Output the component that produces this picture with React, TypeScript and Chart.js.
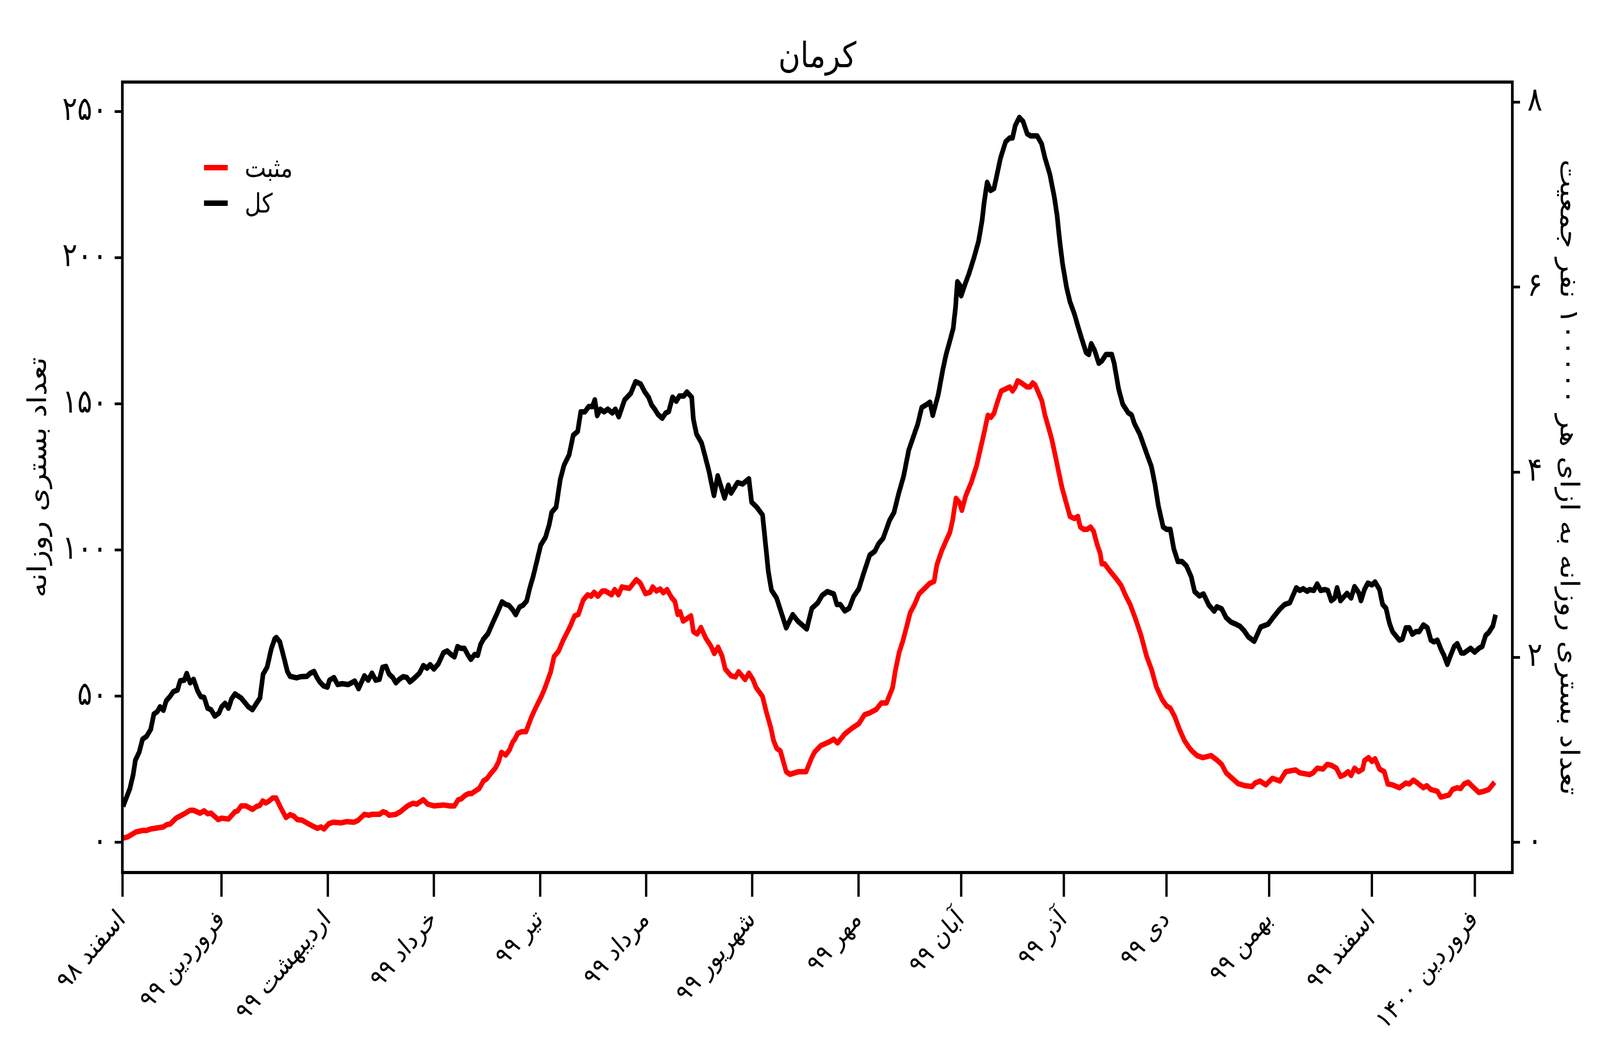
import React, { useEffect, useRef } from 'react';
import { Chart, registerables } from 'chart.js';

Chart.register(...registerables);

const FONT = '"DejaVu Sans", sans-serif';

const titleText = 'کرمان';
const leftAxisTitle = 'تعداد بستری روزانه';
const rightAxisTitle = 'تعداد بستری روزانه به ازای هر ۱۰۰۰۰۰ نفر جمعیت';
const positiveLabel = 'مثبت';
const totalLabel = 'کل';

const monthTickDays = [0, 29, 60, 91, 122, 153, 184, 215, 245, 275, 305, 335, 365, 395];
const monthTickLabels = [
  'اسفند ۹۸', 'فروردین ۹۹', 'اردیبهشت ۹۹', 'خرداد ۹۹', 'تیر ۹۹', 'مرداد ۹۹', 'شهریور ۹۹',
  'مهر ۹۹', 'آبان ۹۹', 'آذر ۹۹', 'دی ۹۹', 'بهمن ۹۹', 'اسفند ۹۹', 'فروردین ۱۴۰۰',
];

const leftTickValues = [0, 50, 100, 150, 200, 250];
const leftTickLabels = ['۰', '۵۰', '۱۰۰', '۱۵۰', '۲۰۰', '۲۵۰'];
const rightTickValues = [0, 2, 4, 6, 8];
const rightTickLabels = ['۰', '۲', '۴', '۶', '۸'];

const xRange = [0, 406];
const leftRange = [-10.3, 260.1];
const populationFactor = 31.66; // daily count / (count per 100 000 people)

// total (کل): day index counted from 1 Esfand 1398, and value
const totalDays = [
  0.2, 2.2, 3.2, 3.8, 4.9, 5.9, 7.1, 8.3, 9.2, 10.2, 11.0, 12.0, 12.8, 13.9, 14.9, 16.1, 16.9, 18.1, 18.8, 19.8,
  20.8, 22.0, 22.9, 23.9, 24.9, 25.9, 27.0, 28.2, 29.0, 30.0, 31.0, 31.9, 32.9, 34.7, 36.8, 38.0, 39.2, 40.2, 41.1, 42.3,
  43.5, 44.5, 45.0, 46.0, 47.2, 48.2, 49.0, 50.9, 52.1, 53.9, 54.8, 56.0, 56.8, 57.6, 58.7, 59.9, 60.5, 61.8, 62.9, 64.2,
  66.0, 67.9, 69.0, 70.7, 71.8, 72.9, 74.0, 75.1, 76.0, 77.0, 77.9, 79.0, 79.9, 80.9, 82.0, 83.1, 84.0, 85.5, 86.8, 87.9,
  89.0, 89.9, 91.0, 92.3, 93.8, 94.9, 96.0, 97.0, 97.9, 98.8, 99.9, 101.0, 101.8, 102.9, 103.8, 104.6, 105.5, 106.8, 108.1, 109.4,
  110.9, 112.0, 112.9, 114.0, 114.9, 116.0, 117.0, 118.1, 119.0, 120.0, 121.1, 122.2, 123.6, 124.7, 125.4, 126.7, 127.9, 129.0, 130.5, 131.7,
  133.0, 133.9, 135.1, 136.2, 137.3, 138.0, 138.7, 139.6, 140.7, 141.8, 143.1, 144.0, 145.0, 146.7, 148.5, 149.9, 151.4, 152.6, 153.7, 154.6,
  155.5, 156.4, 157.7, 158.7, 159.6, 160.7, 161.8, 162.7, 164.0, 164.9, 166.3, 166.8, 167.7, 169.2, 170.3, 171.3, 172.8, 173.9, 175.9, 177.0,
  177.8, 179.7, 181.2, 183.0, 183.8, 185.3, 187.0, 188.7, 189.6, 191.1, 193.9, 195.8, 197.3, 199.9, 201.4, 203.1, 204.4, 205.9, 207.8, 208.7,
  209.7, 211.0, 212.3, 213.6, 215.1, 216.4, 218.3, 219.8, 220.9, 222.2, 224.1, 225.4, 226.7, 228.2, 229.7, 231.0, 232.3, 233.5, 234.8, 235.9,
  236.7, 238.3, 239.6, 240.6, 241.6, 242.7, 243.4, 243.9, 244.7, 245.0, 246.2, 247.3, 248.8, 250.1, 251.1, 251.8, 252.6, 253.6, 254.6, 255.5,
  256.5, 258.0, 259.2, 260.0, 260.8, 262.0, 263.1, 264.3, 265.3, 267.2, 268.5, 269.5, 270.9, 272.2, 273.0, 273.8, 274.6, 275.8, 276.8, 278.1,
  279.1, 280.3, 281.5, 282.3, 283.0, 284.0, 285.2, 286.1, 287.3, 289.0, 289.7, 291.0, 292.2, 293.8, 294.8, 295.6, 297.2, 299.2, 300.6, 301.6,
  302.6, 304.0, 305.0, 306.1, 307.1, 308.3, 309.5, 310.8, 312.2, 313.2, 314.6, 315.8, 317.3, 318.9, 319.7, 321.1, 322.4, 323.8, 325.2, 326.5,
  327.6, 328.9, 330.6, 332.5, 334.7, 336.1, 338.1, 339.5, 341.0, 342.9, 343.9, 344.9, 346.1, 346.8, 348.0, 349.0, 350.0, 351.2, 352.1, 353.1,
  354.1, 354.8, 355.8, 357.7, 358.9, 359.9, 361.1, 361.8, 362.8, 363.8, 365.0, 365.9, 367.2, 368.1, 369.1, 370.1, 371.0, 373.0, 373.9, 374.9,
  375.9, 376.8, 377.8, 378.8, 380.0, 381.2, 382.2, 383.1, 384.1, 385.3, 386.0, 387.0, 388.0, 389.0, 389.9, 391.1, 391.9, 393.8, 395.0, 396.2,
  397.2, 398.2, 399.1, 400.3, 401.1,
];
const totalValues = [
  12.3, 18.4, 23.4, 28.1, 30.8, 35.3, 36.3, 38.7, 43.9, 44.7, 46.4, 45.2, 48.4, 49.9, 51.6, 52.1, 55.3, 55.5, 57.8, 54.6,
  55.8, 51.8, 49.9, 49.6, 45.9, 45.4, 43.2, 44.2, 46.4, 47.6, 45.9, 49.1, 50.8, 49.4, 46.4, 45.4, 47.6, 49.4, 57.5, 60.0,
  66.2, 69.6, 70.1, 68.6, 63.2, 58.5, 56.8, 56.3, 56.7, 56.8, 57.8, 58.5, 56.5, 55.0, 53.6, 53.1, 55.5, 56.4, 54.0, 54.3,
  54.0, 55.2, 52.6, 57.0, 55.5, 57.9, 55.5, 55.8, 59.9, 60.2, 57.6, 56.4, 54.6, 55.8, 56.7, 56.4, 54.9, 56.4, 57.9, 60.5,
  59.6, 60.8, 59.3, 61.1, 64.9, 65.5, 64.3, 63.5, 67.0, 66.4, 66.4, 64.0, 62.6, 64.3, 64.0, 67.6, 69.6, 71.4, 74.9, 78.2,
  82.3, 81.4, 81.1, 79.6, 77.9, 80.5, 81.1, 82.6, 87.0, 91.0, 96.3, 101.7, 104.4, 108.8, 112.9, 114.7, 124.1, 129.0, 132.6, 139.3,
  140.6, 147.3, 147.3, 149.1, 149.1, 151.4, 146.0, 148.2, 147.3, 148.2, 146.9, 148.2, 145.6, 151.4, 153.6, 157.6, 156.8, 154.1, 152.3, 149.6,
  148.2, 146.5, 145.1, 146.9, 147.4, 152.3, 150.9, 152.7, 152.7, 154.1, 152.3, 144.7, 139.7, 136.6, 131.7, 127.2, 118.7, 125.4, 117.8, 122.2,
  119.5, 123.1, 122.6, 124.4, 116.4, 114.7, 112.0, 92.5, 86.3, 83.6, 73.4, 77.9, 75.7, 73.0, 80.1, 81.9, 84.5, 85.8, 85.0, 81.4,
  81.4, 79.2, 80.1, 84.1, 86.7, 91.6, 98.3, 99.6, 102.2, 104.0, 110.2, 112.9, 119.1, 125.3, 134.2, 138.6, 143.0, 148.8, 149.7, 150.6,
  146.1, 153.1, 161.4, 166.9, 171.1, 175.9, 183.5, 191.8, 190.5, 187.0, 191.1, 194.6, 200.2, 205.7, 212.6, 219.6, 225.8, 223.0, 223.7, 228.6,
  234.1, 239.7, 241.0, 241.0, 245.2, 248.0, 246.6, 242.4, 241.7, 241.7, 239.0, 234.1, 228.6, 220.9, 214.7, 205.7, 198.1, 189.8, 184.9, 180.7,
  176.6, 172.0, 167.6, 166.9, 170.6, 168.3, 163.9, 164.7, 166.9, 166.9, 163.9, 155.1, 149.9, 147.0, 146.2, 143.3, 139.6, 133.0, 128.5, 122.6,
  115.2, 107.9, 107.1, 107.1, 100.5, 96.1, 96.1, 94.6, 90.9, 85.8, 84.3, 85.0, 81.3, 79.1, 80.6, 79.9, 76.9, 75.4, 74.7, 73.9,
  72.5, 70.3, 68.8, 73.7, 74.7, 76.9, 79.8, 81.4, 82.0, 87.1, 86.2, 86.8, 85.9, 86.5, 86.2, 88.4, 86.2, 86.5, 86.2, 82.7,
  83.6, 87.1, 82.7, 85.2, 83.6, 87.5, 85.5, 82.7, 86.5, 88.7, 88.1, 89.1, 86.5, 81.4, 80.1, 75.0, 72.1, 69.2, 69.6, 73.4,
  73.4, 71.2, 72.1, 72.1, 74.4, 73.4, 69.2, 68.6, 69.2, 65.7, 64.1, 60.9, 64.1, 67.0, 68.0, 64.8, 64.8, 66.4, 65.1, 66.4,
  67.0, 70.8, 71.8, 74.0, 77.9,
];

// positive (مثبت)
const positiveDays = [
  0.0, 1.6, 4.0, 5.9, 7.1, 8.3, 11.0, 12.0, 13.0, 14.0, 15.7, 18.1, 19.8, 20.8, 22.7, 23.9, 24.9, 25.9, 28.0, 29.0,
  31.0, 32.9, 33.7, 34.7, 36.1, 38.0, 39.2, 40.2, 41.0, 41.9, 42.9, 43.9, 44.9, 46.2, 47.8, 49.0, 50.1, 51.1, 52.5, 54.0,
  55.6, 57.0, 58.0, 58.9, 60.3, 61.6, 63.8, 65.5, 67.7, 68.8, 70.7, 72.0, 72.9, 75.1, 76.2, 77.0, 77.9, 79.9, 81.2, 83.3,
  84.9, 86.0, 87.9, 89.2, 91.0, 93.8, 95.5, 97.0, 98.1, 99.0, 100.1, 101.2, 102.0, 103.1, 104.2, 105.5, 106.4, 107.5, 109.0, 109.9,
  110.7, 112.0, 113.1, 114.0, 114.6, 115.5, 116.6, 117.9, 119.4, 120.5, 122.5, 123.6, 125.1, 126.1, 127.4, 128.7, 129.7, 130.8, 132.1, 133.2,
  134.6, 135.9, 136.9, 137.8, 138.9, 140.2, 141.1, 142.9, 143.8, 144.9, 145.9, 148.1, 150.1, 151.3, 152.8, 154.2, 154.9, 156.0, 157.1, 158.0,
  159.1, 160.4, 161.4, 162.2, 162.9, 163.8, 166.1, 166.8, 167.9, 169.0, 170.4, 171.9, 172.9, 174.0, 175.2, 176.1, 177.8, 179.1, 180.0, 181.9,
  183.0, 184.2, 185.1, 187.0, 188.1, 189.4, 190.2, 191.1, 192.2, 193.9, 195.0, 197.5, 199.7, 201.4, 202.2, 204.0, 206.5, 207.8, 208.9, 211.0,
  213.4, 215.1, 216.8, 218.1, 220.2, 221.7, 223.2, 225.0, 225.8, 226.9, 228.0, 229.3, 230.1, 231.4, 232.7, 234.6, 235.7, 237.1, 237.9, 239.3,
  240.6, 241.7, 242.5, 243.5, 244.5, 245.2, 246.3, 248.0, 249.5, 250.6, 251.8, 252.8, 253.7, 254.6, 255.5, 256.7, 258.0, 259.2, 260.0, 260.8,
  261.5, 262.6, 263.4, 264.3, 265.1, 265.9, 266.6, 267.6, 268.6, 269.5, 270.5, 271.5, 272.5, 273.5, 274.5, 275.8, 276.8, 278.1, 279.1, 279.8,
  280.8, 281.8, 282.8, 283.7, 284.7, 285.6, 286.1, 286.9, 288.3, 290.3, 291.7, 293.1, 294.4, 295.8, 297.5, 299.2, 300.6, 302.0, 303.7, 305.0,
  306.1, 307.4, 308.8, 310.2, 311.5, 312.5, 313.9, 315.6, 318.0, 319.7, 321.1, 322.4, 323.8, 325.9, 327.9, 330.0, 330.8, 332.3, 334.0, 335.9,
  337.4, 338.1, 339.8, 342.7, 343.9, 346.8, 347.8, 349.0, 350.7, 351.9, 353.1, 354.6, 355.8, 357.0, 358.0, 358.9, 359.9, 361.1, 362.3, 362.8,
  364.0, 365.0, 365.9, 367.2, 368.6, 369.6, 371.0, 373.0, 374.9, 375.9, 377.1, 378.3, 380.0, 381.0, 382.2, 384.1, 385.1, 387.5, 388.5, 389.9,
  390.9, 391.9, 393.1, 394.5, 396.2, 397.7, 399.1, 400.8,
];
const positiveValues = [
  1.4, 1.9, 3.6, 4.1, 4.1, 4.6, 5.1, 5.3, 6.1, 6.3, 8.3, 9.8, 11.0, 11.0, 10.0, 10.8, 9.8, 10.0, 7.8, 8.3,
  8.0, 10.5, 10.8, 12.5, 12.5, 11.3, 12.3, 12.7, 14.2, 13.5, 14.2, 15.2, 15.2, 12.0, 8.5, 9.5, 9.0, 7.8, 7.6, 6.6,
  5.6, 4.8, 5.3, 4.6, 6.4, 6.9, 6.7, 7.1, 6.9, 7.5, 9.6, 9.3, 9.6, 9.6, 10.5, 10.2, 9.3, 9.6, 10.5, 12.5,
  13.4, 13.1, 14.6, 13.1, 12.5, 12.8, 12.5, 12.5, 14.6, 14.9, 16.1, 16.7, 16.7, 17.6, 18.4, 21.1, 21.7, 23.4, 25.5, 27.6,
  30.8, 29.9, 31.7, 34.3, 35.2, 37.3, 37.9, 37.9, 42.6, 45.5, 50.2, 53.4, 58.3, 63.6, 65.4, 69.0, 71.3, 73.9, 77.5, 78.0,
  82.9, 84.7, 84.2, 85.6, 84.2, 86.0, 86.0, 84.7, 86.5, 84.7, 87.4, 86.9, 89.9, 88.7, 85.1, 85.6, 87.4, 86.0, 86.7, 85.4,
  86.5, 83.8, 82.4, 78.0, 78.9, 75.7, 77.5, 72.1, 71.3, 73.5, 69.9, 67.2, 64.6, 66.8, 63.7, 59.3, 57.0, 56.6, 58.4, 55.7,
  57.9, 55.7, 53.0, 49.9, 44.6, 39.3, 34.9, 32.2, 31.3, 24.2, 23.3, 24.2, 24.2, 29.1, 30.9, 33.1, 34.4, 35.3, 34.0, 37.1,
  39.3, 40.6, 43.7, 44.2, 45.5, 47.7, 47.7, 53.0, 58.8, 65.0, 69.0, 74.8, 78.5, 81.4, 85.0, 87.2, 88.5, 89.3, 94.9, 99.7,
  103.2, 106.0, 110.1, 117.7, 116.3, 113.6, 118.4, 123.3, 128.8, 134.4, 140.6, 146.1, 145.4, 146.8, 150.3, 154.4, 155.1, 155.8, 154.4, 155.8,
  157.9, 157.2, 156.5, 155.8, 155.8, 157.2, 156.5, 153.8, 151.0, 146.1, 142.0, 137.8, 132.3, 126.7, 121.2, 115.7, 111.5, 110.8, 111.5, 107.9,
  107.1, 107.1, 107.9, 106.4, 102.0, 99.0, 95.3, 95.3, 93.1, 90.2, 88.0, 84.3, 81.3, 76.9, 71.0, 63.6, 59.2, 53.3, 48.9, 46.7,
  45.9, 43.0, 38.6, 34.9, 32.6, 31.2, 29.7, 29.0, 29.7, 28.2, 26.7, 23.8, 22.3, 20.1, 19.4, 19.1, 20.3, 21.0, 19.7, 21.9,
  21.3, 21.0, 24.2, 24.8, 23.8, 23.2, 23.8, 25.4, 25.1, 26.7, 26.4, 25.4, 22.6, 23.2, 24.2, 22.9, 25.4, 24.2, 25.1, 28.0,
  29.0, 27.7, 28.6, 25.1, 24.2, 20.0, 19.7, 18.7, 20.3, 20.0, 21.3, 20.3, 18.7, 19.4, 18.1, 17.5, 15.5, 16.2, 18.1, 18.7,
  18.4, 20.0, 20.6, 19.0, 17.1, 17.5, 18.1, 20.6,
];

// the chart is laid out on a 4800 x 2700 frame and the frame is fitted to the viewport
const REF_W = 4800;
const REF_H = 2700;

const decorPlugin = {
  id: 'decor',
  afterDraw(chart: any) {
    const ctx = chart.ctx;
    const a = chart.chartArea;
    ctx.save();
    ctx.strokeStyle = '#000';
    ctx.lineWidth = 8;
    ctx.strokeRect(a.left, a.top, a.right - a.left, a.bottom - a.top);

    ctx.fillStyle = '#000';
    ctx.font = `90px ${FONT}`;
    ctx.textAlign = 'center';
    ctx.textBaseline = 'alphabetic';
    ctx.fillText(titleText, (a.left + a.right) / 2, a.top - 38);

    const entries = [
      { label: positiveLabel, color: '#ff0000' },
      { label: totalLabel, color: '#000000' },
    ];
    ctx.font = `68px ${FONT}`;
    ctx.textAlign = 'left';
    ctx.textBaseline = 'middle';
    entries.forEach((e, i) => {
      const y = a.top + 219 + i * 91;
      ctx.strokeStyle = e.color;
      ctx.lineWidth = 14;
      ctx.lineCap = 'butt';
      ctx.beginPath();
      ctx.moveTo(a.left + 245, y);
      ctx.lineTo(a.left + 316, y);
      ctx.stroke();
      ctx.fillStyle = '#000';
      ctx.fillText(e.label, a.left + 367, y + 6);
    });
    ctx.restore();
  },
};

export default function App() {
  const frameRef = useRef<HTMLDivElement>(null);
  const ref = useRef<HTMLCanvasElement>(null);

  useEffect(() => {
    document.body.style.margin = '0';
    document.body.style.overflow = 'hidden';
    const canvas = ref.current;
    const frame = frameRef.current;
    if (!canvas || !frame) return;

    const W = window.innerWidth || REF_W;
    const H = window.innerHeight || REF_H;
    frame.style.transform = `scale(${W / REF_W}, ${H / REF_H})`;

    const plotLeft = 367;
    const plotRight = 4537;
    const plotTop = 210;
    const plotBottom = 2233;

    const tickFont = { family: FONT, size: 84 };
    const axisTitleFont = { family: FONT, size: 77 };
    const tickGrid = (len: number) => ({
      display: true,
      drawOnChartArea: false,
      drawTicks: true,
      tickLength: len,
      tickWidth: 7,
      tickColor: '#000',
    });

    const chart = new Chart(canvas, {
      type: 'line',
      data: {
        datasets: [
          {
            label: positiveLabel,
            data: positiveDays.map((d, i) => ({ x: d, y: positiveValues[i] })),
            borderColor: '#ff0000',
            backgroundColor: '#ff0000',
            borderWidth: 14,
            pointRadius: 0,
            tension: 0,
            fill: false,
            borderJoinStyle: 'round',
            xAxisID: 'x',
            yAxisID: 'y',
          },
          {
            label: totalLabel,
            data: totalDays.map((d, i) => ({ x: d, y: totalValues[i] })),
            borderColor: '#000000',
            backgroundColor: '#000000',
            borderWidth: 14,
            pointRadius: 0,
            tension: 0,
            fill: false,
            borderJoinStyle: 'round',
            xAxisID: 'x',
            yAxisID: 'y',
          },
        ],
      },
      options: {
        animation: false,
        responsive: false,
        devicePixelRatio: 1,
        layout: { padding: { top: plotTop, left: 0, right: 0, bottom: 0 } },
        plugins: {
          legend: { display: false },
          title: { display: false },
          tooltip: { enabled: false },
        },
        scales: {
          x: {
            type: 'linear',
            position: 'bottom',
            min: xRange[0],
            max: xRange[1],
            afterBuildTicks: (sc: any) => {
              sc.ticks = monthTickDays.map((v) => ({ value: v }));
            },
            afterFit: (sc: any) => {
              sc.height = REF_H - plotBottom;
            },
            ticks: {
              autoSkip: false,
              maxRotation: 45,
              minRotation: 45,
              padding: 20,
              color: '#000',
              font: { family: FONT, size: 67 },
              callback: (v: any) => {
                const i = monthTickDays.indexOf(Number(v));
                return i >= 0 ? monthTickLabels[i] : '';
              },
            },
            grid: tickGrid(62),
            border: { display: false },
          },
          y: {
            type: 'linear',
            position: 'left',
            min: leftRange[0],
            max: leftRange[1],
            afterBuildTicks: (sc: any) => {
              sc.ticks = leftTickValues.map((v) => ({ value: v }));
            },
            afterFit: (sc: any) => {
              sc.width = plotLeft;
            },
            ticks: {
              padding: 22,
              color: '#000',
              font: tickFont,
              callback: (v: any) => {
                const i = leftTickValues.indexOf(Number(v));
                return i >= 0 ? leftTickLabels[i] : '';
              },
            },
            grid: tickGrid(23),
            border: { display: false },
            title: {
              display: true,
              text: leftAxisTitle,
              color: '#000',
              font: axisTitleFont,
              padding: { top: 72, bottom: 0 },
            },
          },
          y1: {
            type: 'linear',
            position: 'right',
            display: true,
            min: leftRange[0] / populationFactor,
            max: leftRange[1] / populationFactor,
            afterBuildTicks: (sc: any) => {
              sc.ticks = rightTickValues.map((v) => ({ value: v }));
            },
            afterFit: (sc: any) => {
              sc.width = REF_W - plotRight;
            },
            ticks: {
              padding: 22,
              color: '#000',
              font: tickFont,
              callback: (v: any) => {
                const i = rightTickValues.indexOf(Number(v));
                return i >= 0 ? rightTickLabels[i] : '';
              },
            },
            grid: tickGrid(23),
            border: { display: false },
            title: {
              display: true,
              text: rightAxisTitle,
              color: '#000',
              font: axisTitleFont,
              padding: { top: 52, bottom: 0 },
            },
          },
        },
      },
      plugins: [decorPlugin],
    } as any);

    return () => chart.destroy();
  }, []);

  return (
    <div style={{ position: 'fixed', left: 0, top: 0, width: '100vw', height: '100vh', overflow: 'hidden', background: '#fff' }}>
      <div
        ref={frameRef}
        style={{ position: 'absolute', left: 0, top: 0, width: REF_W, height: REF_H, transformOrigin: '0 0' }}
      >
        <canvas
          ref={ref}
          width={REF_W}
          height={REF_H}
          style={{ display: 'block', width: `${REF_W}px`, height: `${REF_H}px` }}
        />
      </div>
    </div>
  );
}
